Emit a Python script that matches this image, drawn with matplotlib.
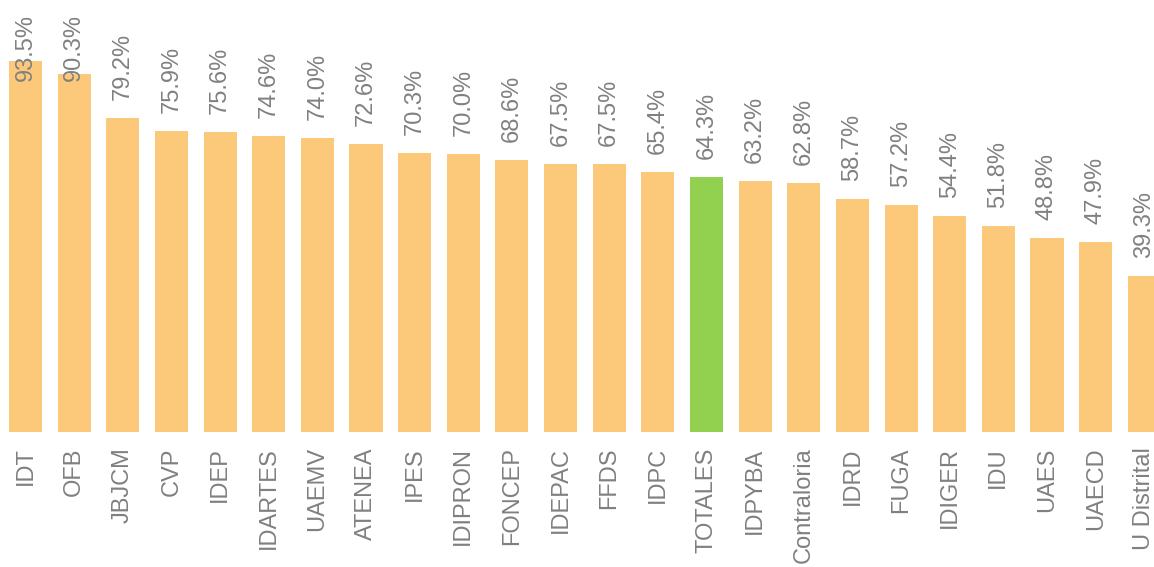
import matplotlib
matplotlib.use('Agg')
import matplotlib.pyplot as plt

plt.rcParams['font.family'] = ['Liberation Sans', 'DejaVu Sans']

entidades = ['IDT', 'OFB', 'JBJCM', 'CVP', 'IDEP', 'IDARTES', 'UAEMV', 'ATENEA',
             'IPES', 'IDIPRON', 'FONCEP', 'IDEPAC', 'FFDS', 'IDPC', 'TOTALES',
             'IDPYBA', 'Contraloria', 'IDRD', 'FUGA', 'IDIGER', 'IDU', 'UAES',
             'UAECD', 'U Distrital']
porcentaje = [93.5, 90.3, 79.2, 75.9, 75.6, 74.6, 74.0, 72.6, 70.3, 70.0, 68.6,
              67.5, 67.5, 65.4, 64.3, 63.2, 62.8, 58.7, 57.2, 54.4, 51.8, 48.8,
              47.9, 39.3]

naranja = '#FCC97B'
verde = '#92D050'
gris = '#808080'

colores = [verde if e == 'TOTALES' else naranja for e in entidades]

fig = plt.figure(figsize=(11.54, 5.67), dpi=100)
ax = fig.add_axes([0, 135 / 567, 1, 432 / 567])

x = range(len(entidades))
ax.bar(x, porcentaje, width=0.68, color=colores)

ymax = 432 / 3.97
ax.set_ylim(0, ymax)
ax.set_xlim(-0.524, 23.2)

# etiquetas de valor, las mas altas quedan topadas arriba
for i, v in enumerate(porcentaje):
    ax.text(i, min(v + 4.5, 88.4), f'{v:.1f}%', rotation=90, ha='center',
            va='bottom', color=gris, fontsize=17)

ax.set_xticks(list(x))
ax.set_xticklabels(entidades, rotation=90, color=gris, fontsize=17)
ax.tick_params(axis='x', length=0, pad=11)
ax.set_yticks([])
for s in ax.spines.values():
    s.set_visible(False)

fig.savefig('out.png', dpi=100)
